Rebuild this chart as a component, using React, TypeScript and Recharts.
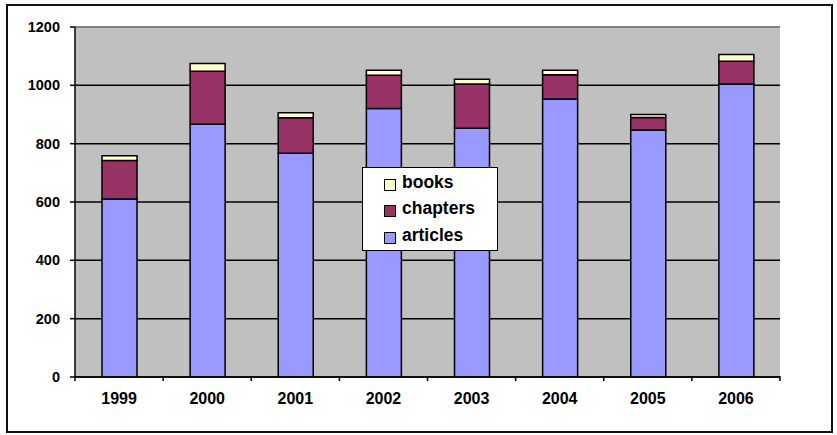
import { BarChart, Bar, XAxis, YAxis, CartesianGrid, Legend, ReferenceLine } from 'recharts';

const years = ['1999', '2000', '2001', '2002', '2003', '2004', '2005', '2006'];
const articles = [610, 867, 767, 921, 853, 953, 847, 1005];
const chapters = [132, 181, 122, 114, 152, 83, 43, 78];
const books = [17, 27, 17, 17, 16, 16, 10, 23];
const yTicks = [0, 200, 400, 600, 800, 1000, 1200];
const legendOrder = ['books', 'chapters', 'articles'];

const FONT = '"Liberation Sans", Arial, sans-serif';

const data = years.map((year, i) => ({
  year,
  articles: articles[i],
  chapters: chapters[i],
  books: books[i],
}));

// Year label centred in its band, tick marks on the band edges
const YearTick = ({ x, y, payload, index, visibleTicksCount }: any) => {
  const half = payload?.offset ?? 0;
  const axisY = y - 1;
  const isLast = index === (visibleTicksCount ?? years.length) - 1;
  return (
    <g>
      {half > 0 && (
        <line x1={x - half} x2={x - half} y1={axisY} y2={axisY + 5} stroke="#000" strokeWidth={1.5} />
      )}
      {half > 0 && isLast && (
        <line x1={x + half} x2={x + half} y1={axisY} y2={axisY + 5} stroke="#000" strokeWidth={1.5} />
      )}
      <text
        x={x}
        y={axisY + 17}
        dy="0.71em"
        textAnchor="middle"
        fill="#000"
        fontSize={16}
        fontWeight="bold"
        fontFamily={FONT}
      >
        {payload.value}
      </text>
    </g>
  );
};

const LegendBox = ({ payload }: any) => {
  const items = legendOrder
    .map((key) => (payload || []).find((p: any) => p.dataKey === key || p.value === key))
    .filter(Boolean);
  return (
    <div
      style={{
        width: 136,
        height: 84,
        background: '#fff',
        border: '1.5px solid #000',
        fontFamily: FONT,
        fontWeight: 'bold',
        fontSize: 17.5,
        paddingTop: 1,
        boxSizing: 'border-box',
      }}
    >
      {items.map((item: any) => (
        <div key={item.value} style={{ display: 'flex', alignItems: 'center', height: 26.5 }}>
          <span
            style={{
              display: 'inline-block',
              width: 10,
              height: 10,
              marginLeft: 21,
              marginRight: 6,
              marginTop: 5,
              background: item.color,
              border: '1px solid #000',
            }}
          />
          <span style={{ color: '#000' }}>{item.value}</span>
        </div>
      ))}
    </div>
  );
};

export default function App() {
  return (
    <div style={{ position: 'absolute', left: 0, top: 0, width: 837, height: 435, background: '#fff' }}>
      <div
        style={{
          position: 'absolute',
          left: 6,
          top: 4,
          width: 827,
          height: 429,
          border: '2px solid #111',
          boxSizing: 'border-box',
        }}
      />
      <div style={{ position: 'absolute', left: 0, top: 0 }}>
        <BarChart
          width={837}
          height={435}
          data={data}
          margin={{ top: 27, right: 57, bottom: 0, left: 0 }}
          barCategoryGap={0}
        >
          <CartesianGrid vertical={false} fill="#C0C0C0" stroke="#000" strokeWidth={1.5} horizontalValues={yTicks} />
          <ReferenceLine y={1200} stroke="#808080" strokeWidth={2} />
          <XAxis
            dataKey="year"
            axisLine={{ stroke: '#000', strokeWidth: 1.5 }}
            tickLine={false}
            tickSize={0}
            tickMargin={0}
            tick={<YearTick />}
            height={58}
            interval={0}
          />
          <YAxis
            domain={[0, 1200]}
            ticks={yTicks}
            width={75}
            axisLine={{ stroke: '#000', strokeWidth: 1.5 }}
            tickLine={{ stroke: '#000', strokeWidth: 1.5 }}
            tickSize={5}
            tickMargin={10}
            tick={{ fill: '#000', fontSize: 14.5, fontWeight: 'bold', fontFamily: FONT }}
            allowDataOverflow
          />
          <YAxis
            yAxisId="frame"
            orientation="right"
            width={0}
            tick={false}
            tickLine={false}
            axisLine={{ stroke: '#808080', strokeWidth: 2 }}
          />
          <Legend
            content={<LegendBox />}
            wrapperStyle={{ position: 'absolute', left: 362, top: 167, width: 136, height: 0, overflow: 'visible' }}
          />
          <Bar dataKey="articles" stackId="a" fill="#9999FF" stroke="#000" strokeWidth={1.5} barSize={35} isAnimationActive={false} />
          <Bar dataKey="chapters" stackId="a" fill="#993366" stroke="#000" strokeWidth={1.5} barSize={35} isAnimationActive={false} />
          <Bar dataKey="books" stackId="a" fill="#FFFFCC" stroke="#000" strokeWidth={1.5} barSize={35} isAnimationActive={false} />
        </BarChart>
      </div>
    </div>
  );
}
